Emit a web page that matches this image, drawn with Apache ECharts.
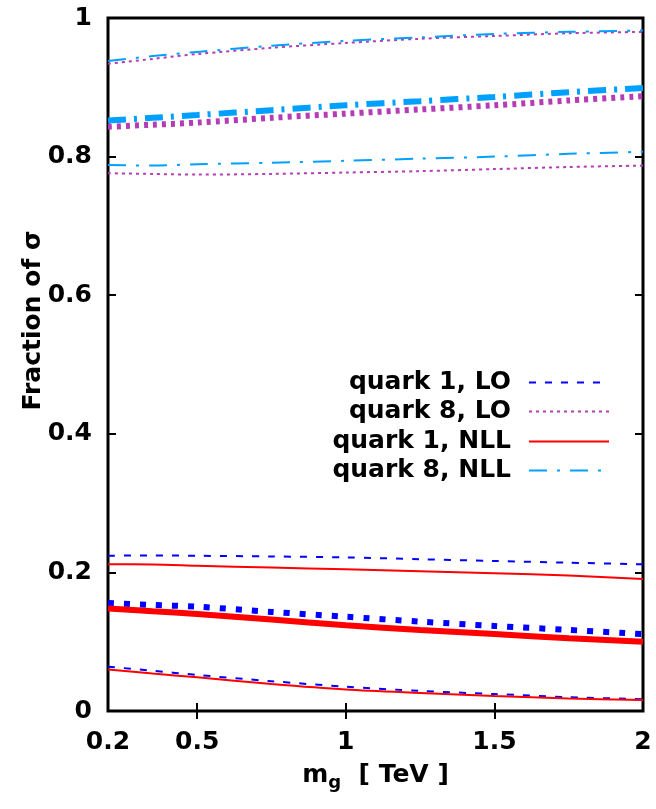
<!DOCTYPE html>
<html>
<head>
<meta charset="utf-8">
<script src="https://cdn.jsdelivr.net/npm/echarts@6/dist/echarts.min.js"></script>
<style>
html, body { margin: 0; padding: 0; background: #fff; }
#chart { width: 656px; height: 809px; }
</style>
</head>
<body>
<div id="chart"></div>
<script>
// gluino mass in TeV
const masses = [0.2, 0.35, 0.5, 0.75, 1, 1.25, 1.5, 1.75, 2];

// quark 1, LO (upper / central / lower)
const q1LoUp  = [0.224, 0.2245, 0.224, 0.223, 0.2217, 0.219, 0.2165, 0.214, 0.2117];
const q1LoMid = [0.156, 0.153, 0.1505, 0.143, 0.136, 0.129, 0.1227, 0.117, 0.111];
const q1LoLow = [0.064, 0.058, 0.052, 0.043, 0.035, 0.029, 0.0245, 0.020, 0.017];
// quark 1, NLL
const q1NllUp  = [0.2117, 0.2115, 0.2097, 0.207, 0.2044, 0.2015, 0.1986, 0.1955, 0.1905];
const q1NllMid = [0.148, 0.144, 0.140, 0.132, 0.1236, 0.117, 0.111, 0.105, 0.100];
const q1NllLow = [0.060, 0.054, 0.0486, 0.039, 0.031, 0.026, 0.0216, 0.018, 0.016];
// quark 8, LO
const q8LoUp  = [0.934, 0.941, 0.948, 0.957, 0.964, 0.970, 0.974, 0.978, 0.980];
const q8LoMid = [0.843, 0.846, 0.849, 0.856, 0.862, 0.868, 0.874, 0.881, 0.887];
const q8LoLow = [0.776, 0.775, 0.774, 0.775, 0.777, 0.779, 0.782, 0.785, 0.787];
// quark 8, NLL
const q8NllUp  = [0.938, 0.945, 0.951, 0.960, 0.967, 0.972, 0.977, 0.980, 0.982];
const q8NllMid = [0.852, 0.856, 0.860, 0.867, 0.874, 0.880, 0.886, 0.893, 0.899];
const q8NllLow = [0.788, 0.787, 0.789, 0.791, 0.794, 0.797, 0.800, 0.804, 0.807];

const xLabels = [0.2, 0.5, 1, 1.5, 2];
const xTicks = [0.5, 1, 1.5];

const FONT = 'DejaVu Sans';
const FS = 25;

function pairs(ys) {
  return masses.map((m, i) => [m, ys[i]]);
}

function line(name, ys, color, width, dash) {
  return {
    name: name,
    type: 'line',
    data: pairs(ys),
    symbol: 'none',
    smooth: 0.3,
    silent: true,
    itemStyle: { color: color },
    lineStyle: { color: color, width: width, type: dash, cap: 'butt' }
  };
}

const BLUE = '#0000ff', PURPLE = '#b43cb4', RED = '#ff0000', CYAN = '#00a0ff';
const n1 = 'quark 1, LO', n2 = 'quark 8, LO', n3 = 'quark 1, NLL', n4 = 'quark 8, NLL';

const series = [
  line(n1, q1LoUp, BLUE, 2, [7, 9]),
  line(n1, q1LoLow, BLUE, 2, [7, 9]),
  line(n1, q1LoMid, BLUE, 6, [6, 10]),
  line(n2, q8LoUp, PURPLE, 2, [3, 4]),
  line(n2, q8LoLow, PURPLE, 2, [3, 4]),
  line(n2, q8LoMid, PURPLE, 6, [4, 5]),
  line(n3, q1NllUp, RED, 2, 'solid'),
  line(n3, q1NllLow, RED, 2, 'solid'),
  line(n3, q1NllMid, RED, 6, 'solid'),
  line(n4, q8NllUp, CYAN, 2, [18, 10, 3, 10]),
  line(n4, q8NllLow, CYAN, 2, [18, 10, 3, 10]),
  line(n4, q8NllMid, CYAN, 6, [18, 8, 3, 8])
];

const legendRows = [[n1, 381], [n2, 410], [n3, 440], [n4, 469]];
const legends = legendRows.map(([name, y]) => ({
  data: [name],
  orient: 'vertical',
  right: 46,
  top: y - 11,
  align: 'right',
  padding: 0,
  itemWidth: 80,
  itemHeight: 14,
  selectedMode: false,
  itemStyle: { opacity: 0 },
  textStyle: { fontFamily: FONT, fontWeight: 'bold', fontSize: FS, color: '#000', padding: [0, 13, 0, 0] }
}));

const labelStyle = { fontFamily: FONT, fontWeight: 'bold', fontSize: FS, color: '#000' };

let option = {
  animation: false,
  backgroundColor: '#fff',
  grid: {
    left: 108, right: 13, top: 18, bottom: 98,
    show: true, borderColor: '#000', borderWidth: 3, backgroundColor: 'transparent'
  },
  legend: legends,
  xAxis: [
    {
      type: 'value', min: 0.2, max: 2, position: 'bottom',
      name: '{m|m}{g|g}{t|  [ TeV ]}',
      nameLocation: 'middle', nameGap: 47,
      nameTextStyle: {
        rich: {
          m: { fontFamily: FONT, fontWeight: 'bold', fontSize: FS, color: '#000' },
          g: { fontFamily: FONT, fontWeight: 'bold', fontSize: 18, color: '#000', verticalAlign: 'top', padding: [16, 0, 0, 0] },
          t: { fontFamily: FONT, fontWeight: 'bold', fontSize: FS, color: '#000' }
        }
      },
      axisLine: { show: false },
      splitLine: { show: false },
      axisTick: { inside: true, length: 8, customValues: xTicks, lineStyle: { color: '#000', width: 2 } },
      axisLabel: Object.assign({ margin: 19, customValues: xLabels }, labelStyle)
    },
    {
      type: 'value', min: 0.2, max: 2, position: 'top',
      axisLine: { show: false },
      splitLine: { show: false },
      axisTick: { inside: true, length: 8, customValues: xTicks, lineStyle: { color: '#000', width: 2 } },
      axisLabel: { show: false }
    }
  ],
  yAxis: [
    {
      type: 'value', min: 0, max: 1, interval: 0.2, position: 'left',
      name: 'Fraction of σ',
      nameLocation: 'middle', nameGap: 62,
      nameMoveOverlap: false,
      nameTextStyle: { fontFamily: FONT, fontWeight: 'bold', fontSize: FS, color: '#000', padding: [0, 0, 0, 88] },
      axisLine: { show: false },
      splitLine: { show: false },
      axisTick: { inside: true, length: 8, lineStyle: { color: '#000', width: 2 } },
      axisLabel: Object.assign({ margin: 16 }, labelStyle)
    },
    {
      type: 'value', min: 0, max: 1, interval: 0.2, position: 'right',
      axisLine: { show: false },
      splitLine: { show: false },
      axisTick: { inside: true, length: 8, lineStyle: { color: '#000', width: 2 } },
      axisLabel: { show: false }
    }
  ],
  series: series
};

let myChart = echarts.init(document.getElementById('chart'));
myChart.setOption(option);
</script>
</body>
</html>
